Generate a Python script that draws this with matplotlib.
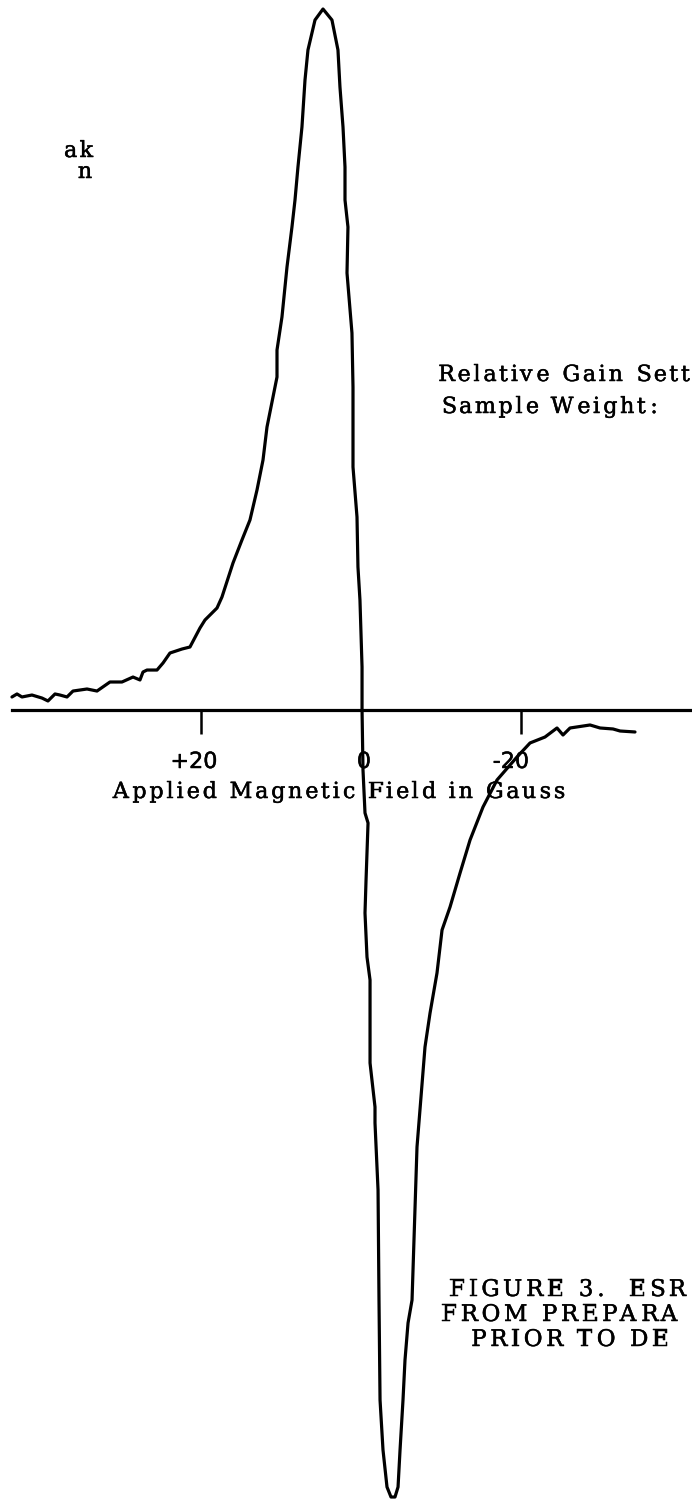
import matplotlib
matplotlib.use("Agg")
import matplotlib.pyplot as plt
import matplotlib.patheffects as pe
from matplotlib.font_manager import FontProperties, findfont
from matplotlib.ft2font import FT2Font

# ESR first-derivative trace
# field in gauss (positive to the left), signal in arbitrary units
field = [43.63, 43.0, 42.38, 41.13, 39.88, 39.13, 38.25, 37.63, 36.75, 36.0,
         34.25, 33.0, 31.38, 29.88, 28.5, 27.63, 27.25, 26.75, 25.5, 24.75,
         23.88, 22.38, 21.38, 20.13, 19.5, 18.0, 17.38, 16.0, 14.88, 13.88,
         13.0, 12.25, 11.75, 11.0, 10.5, 10.5, 9.88, 9.25, 8.63, 8.25,
         7.88, 7.38, 7.0, 6.63, 5.75, 4.75, 3.63, 2.88, 2.63, 2.25,
         2.0, 2.0, 1.63, 1.75, 1.13, 1.0, 1.0, 1.0, 0.5, 0.38,
         0.13, -0.13, -0.13, -0.25, -0.5, -0.88, -0.63, -0.5, -0.75, -1.13,
         -1.13, -1.75, -1.75, -2.13, -2.25, -2.38, -2.75, -3.25, -3.75, -4.25,
         -4.63, -4.88, -5.25, -5.5, -5.88, -6.38, -7.0, -8.0, -8.63, -9.5,
         -10.13, -11.13, -12.38, -13.63, -15.25, -17.0, -19.5, -21.13, -23.0, -24.5,
         -25.25, -26.13, -28.63, -29.88, -31.5, -32.38, -34.25]
signal = [1.86, 2.29, 1.86, 2.14, 1.71, 1.29, 2.29, 2.14, 1.86, 2.71,
          3.0, 2.71, 4.0, 4.0, 4.71, 4.29, 5.43, 5.71, 5.71, 6.71,
          8.14, 8.71, 9.0, 11.71, 12.86, 14.57, 16.14, 21.0, 24.29, 27.14,
          31.43, 35.71, 40.43, 44.71, 47.57, 51.43, 56.14, 63.29, 69.0, 72.86,
          77.57, 83.29, 90.0, 94.29, 98.57, 100.14, 98.57, 94.29, 89.0, 83.29,
          77.57, 72.86, 69.0, 62.43, 53.86, 46.14, 39.57, 34.71, 27.57, 20.43,
          15.71, 6.14, 0.0, -8.57, -14.71, -16.14, -24.29, -29.0, -35.29, -38.57,
          -50.43, -56.71, -59.0, -68.57, -84.29, -98.57, -105.71, -111.0, -112.43, -112.43,
          -111.0, -105.71, -98.57, -92.86, -87.57, -84.29, -62.43, -48.14, -43.29, -37.57,
          -31.43, -28.14, -23.29, -18.57, -13.86, -10.0, -6.71, -4.71, -3.86, -2.57,
          -3.57, -2.57, -2.14, -2.57, -2.71, -3.0, -3.14]

tick_fields = [20, -20]
tick_labels = ["+20", "0", "-20"]
xlabel = "Applied Magnetic Field in Gauss"
side_notes = ["Relative Gain Sett", "Sample Weight:"]
corner_notes = ["ak", "n"]
caption = ["FIGURE 3.  ESR", "FROM PREPARA", "PRIOR TO DE"]

W, H, DPI = 692, 1501, 100
X0_PX, ZERO_PX = 361, 710   # pixel column of 0 G, pixel row of the baseline
G_PX, S_PX = 8.0, 7.0       # pixels per gauss, pixels per signal unit
INK = [pe.withStroke(linewidth=0.35, foreground="black")]  # slightly heavier print, like the scan

fig = plt.figure(figsize=(W / DPI, H / DPI), dpi=DPI)
ax = fig.add_axes([0, 0, 1, 1])
ax.set_xlim(X0_PX / G_PX, (X0_PX - W) / G_PX)
ax.set_ylim((ZERO_PX - H) / S_PX, ZERO_PX / S_PX)
ax.axis("off")

ax.axhline(0, xmin=12 / W, color="black", lw=2.3)
ax.vlines(tick_fields, -3.4, 0, color="black", lw=1.8)
ax.plot(field, signal, color="black", lw=2.3,
        solid_joinstyle="round", solid_capstyle="round")


def put(x, y, s, size=16, family="DejaVu Serif", track=2.8):
    """write s from pixel x on baseline pixel y, letters spread out by track px"""
    fp = FontProperties(family=family, size=size)
    font = FT2Font(findfont(fp))
    font.set_size(size, 72)
    for ch in s:
        g = font.load_char(ord(ch))
        if ch != " ":
            ink = x + g.horiBearingX / 64 * DPI / 72
            fig.text(ink / W, 1 - y / H, ch, fontproperties=fp,
                     ha="left", va="baseline", color="black", path_effects=INK)
        x += g.linearHoriAdvance / 65536 * DPI / 72 + track


# tick labels under the axis
for lab, cx in zip(tick_labels, [194, 364, 511]):
    fig.text(cx / W, 1 - 768 / H, lab, family="DejaVu Sans", fontsize=16,
             ha="center", va="baseline", color="black", path_effects=INK)

put(113, 798, xlabel)
put(437, 381, side_notes[0])
put(440, 413, side_notes[1])
put(63, 157, corner_notes[0])
put(77, 178, corner_notes[1])
put(448, 1296, caption[0], size=16.5, track=3.6)
put(440, 1321, caption[1], size=16.5, track=3.6)
put(470, 1346, caption[2], size=16.5, track=3.6)

fig.savefig("out.png", dpi=DPI, facecolor="white")
